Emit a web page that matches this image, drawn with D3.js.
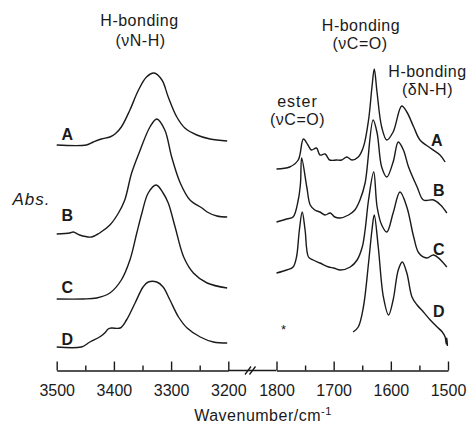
<!DOCTYPE html>
<html>
<head>
<meta charset="utf-8">
<script src="https://cdn.jsdelivr.net/npm/d3@7"></script>
<style>
  body { margin: 0; background: #fff; }
  svg text { font-family: 'Liberation Sans', Arial, sans-serif; fill: #1a1a1a; }
</style>
</head>
<body>
<svg id="chart" width="467" height="422"></svg>
<script>
'use strict';

// series names, top to bottom
const SERIES = ['A', 'B', 'C', 'D'];

// N-H stretch region, [wavenumber, absorbance (stacked, a.u.)]
const nhA = [[3500, 2.15], [3448, 2.15], [3436, 2.18], [3422, 2.21], [3407, 2.23], [3398, 2.26],
  [3387, 2.33], [3372, 2.5], [3357, 2.7], [3343, 2.83], [3330, 2.87], [3316, 2.8], [3305, 2.63],
  [3290, 2.43], [3276, 2.32], [3255, 2.25], [3232, 2.21], [3202, 2.19]];
const nhB = [[3500, 1.26], [3477, 1.27], [3471, 1.28], [3460, 1.25], [3439, 1.23], [3425, 1.27],
  [3407, 1.35], [3392, 1.47], [3381, 1.6], [3369, 1.87], [3354, 2.1], [3337, 2.33], [3325, 2.41],
  [3311, 2.3], [3299, 2.03], [3284, 1.77], [3267, 1.6], [3246, 1.52], [3237, 1.48], [3220, 1.44],
  [3202, 1.43]];
const nhC = [[3500, 0.61], [3454, 0.61], [3430, 0.62], [3407, 0.67], [3387, 0.8], [3372, 1.0],
  [3360, 1.27], [3351, 1.47], [3340, 1.67], [3326, 1.75], [3314, 1.67], [3305, 1.57], [3293, 1.33],
  [3278, 1.03], [3261, 0.87], [3237, 0.77], [3202, 0.72]];
const nhD = [[3500, 0.13], [3457, 0.13], [3442, 0.18], [3425, 0.23], [3416, 0.27], [3410, 0.31],
  [3404, 0.32], [3389, 0.32], [3378, 0.4], [3363, 0.57], [3349, 0.73], [3340, 0.78], [3325, 0.78],
  [3314, 0.73], [3302, 0.6], [3287, 0.43], [3272, 0.32], [3249, 0.23], [3226, 0.18], [3202, 0.17]];

// C=O / N-H bending region
const coA = [[1800, 1.91], [1777, 1.93], [1762, 2.0], [1753, 2.21], [1745, 2.15], [1739, 2.1],
  [1730, 2.12], [1724, 2.05], [1715, 2.06], [1707, 2.0], [1695, 2.0], [1686, 2.0], [1677, 2.03],
  [1668, 2.0], [1657, 2.03], [1648, 2.13], [1639, 2.4], [1633, 2.73], [1629, 2.91], [1624, 2.67],
  [1616, 2.33], [1607, 2.2], [1596, 2.28], [1581, 2.54], [1572, 2.48], [1560, 2.33], [1549, 2.2],
  [1531, 2.12], [1514, 2.05], [1505, 1.98]];
const coB = [[1800, 1.38], [1782, 1.41], [1771, 1.43], [1762, 1.6], [1758, 1.77], [1756, 2.02],
  [1747, 1.73], [1741, 1.55], [1733, 1.5], [1724, 1.48], [1715, 1.45], [1706, 1.47], [1698, 1.43],
  [1689, 1.42], [1674, 1.45], [1663, 1.5], [1654, 1.6], [1645, 1.77], [1631, 2.4], [1624, 2.27],
  [1616, 1.93], [1607, 1.83], [1596, 1.98], [1587, 2.18], [1578, 2.1], [1569, 1.93], [1554, 1.73],
  [1543, 1.6], [1525, 1.6], [1513, 1.55], [1502, 1.47]];
const coC = [[1800, 0.87], [1782, 0.9], [1771, 0.93], [1765, 1.03], [1760, 1.3], [1755, 1.48],
  [1750, 1.3], [1744, 1.03], [1736, 1.0], [1724, 0.97], [1709, 0.93], [1700, 0.92], [1688, 0.9],
  [1671, 0.93], [1659, 1.0], [1650, 1.13], [1645, 1.3], [1639, 1.6], [1630, 1.88], [1624, 1.53],
  [1616, 1.35], [1607, 1.28], [1596, 1.47], [1584, 1.68], [1572, 1.53], [1560, 1.23], [1551, 1.07],
  [1537, 1.02], [1525, 1.05], [1502, 0.93]];
const coD = [[1666, 0.28], [1657, 0.33], [1648, 0.53], [1639, 0.97], [1633, 1.3], [1629, 1.45],
  [1622, 1.13], [1613, 0.63], [1604, 0.45], [1596, 0.6], [1587, 0.9], [1580, 0.98], [1572, 0.87],
  [1563, 0.63], [1554, 0.55], [1543, 0.48], [1531, 0.4], [1519, 0.33], [1510, 0.28], [1505, 0.23],
  [1503, 0.16], [1502, 0.22], [1501, 0.14]];

const nhSpectra = [nhA, nhB, nhC, nhD];
const coSpectra = [coA, coB, coC, coD];

const leftTicks = [3500, 3400, 3300, 3200];
const leftMinor = [3450, 3350, 3250];
const rightTicks = [1800, 1700, 1600, 1500];
const rightMinor = [1750, 1650, 1550];

const svg = d3.select('#chart');
const ink = '#1a1a1a';

const xL = d3.scaleLinear().domain([3500, 3200]).range([56.7, 228.3]);
const xR = d3.scaleLinear().domain([1800, 1500]).range([276.5, 448]);
const y = d3.scaleLinear().domain([0, 3]).range([360, 60]);
const axisY = 370.5;

// spectra
const lineL = d3.line().x((d) => xL(d[0])).y((d) => y(d[1])).curve(d3.curveCatmullRom.alpha(0.5));
const lineR = d3.line().x((d) => xR(d[0])).y((d) => y(d[1])).curve(d3.curveCatmullRom.alpha(0.5));

const g = svg.append('g').attr('fill', 'none').attr('stroke', ink).attr('stroke-width', 1.4)
  .attr('stroke-linejoin', 'round');
g.selectAll('path.nh').data(nhSpectra).join('path').attr('class', 'nh').attr('d', lineL);
g.selectAll('path.co').data(coSpectra).join('path').attr('class', 'co').attr('d', lineR);

// axes (ticks point up)
function drawAxis(scale, ticks, minor) {
  svg.append('g')
    .attr('transform', `translate(0,${axisY})`)
    .call(d3.axisBottom(scale).tickValues(ticks).tickSizeInner(-9).tickSizeOuter(0).tickPadding(14)
      .tickFormat(d3.format('d')))
    .call((a) => a.select('.domain').attr('stroke', ink).attr('stroke-width', 1.4))
    .call((a) => a.selectAll('.tick line').attr('stroke', ink).attr('stroke-width', 1.4))
    .call((a) => a.selectAll('.tick text').attr('font-size', 16).attr('fill', ink)
      .attr('font-family', "'Liberation Sans', Arial, sans-serif").attr('dy', '0.72em'));
  svg.append('g')
    .attr('transform', `translate(0,${axisY})`)
    .call(d3.axisBottom(scale).tickValues(minor).tickSizeInner(-5).tickSizeOuter(0).tickFormat(''))
    .call((a) => a.select('.domain').remove())
    .call((a) => a.selectAll('.tick line').attr('stroke', ink).attr('stroke-width', 1.4));
}
drawAxis(xL, leftTicks, leftMinor);
drawAxis(xR, rightTicks, rightMinor);

// axis break
const brk = svg.append('g').attr('stroke', ink).attr('stroke-width', 1.3).attr('fill', 'none');
brk.append('path').attr('d', `M${xL(3200)},${axisY}H${xR(1800)}`);
brk.append('path').attr('d', `M245,${axisY + 4}L251,${axisY - 4}M249.5,${axisY + 4}L255.5,${axisY - 4}`);

// text
function label(x, yy, txt, opts = {}) {
  return svg.append('text')
    .attr('x', x).attr('y', yy)
    .attr('text-anchor', opts.anchor || 'middle')
    .attr('font-size', opts.size || 16)
    .attr('font-weight', opts.bold ? 'bold' : null)
    .attr('font-style', opts.italic ? 'italic' : null)
    .attr('letter-spacing', opts.ls != null ? opts.ls : 0.5)
    .text(txt);
}

label(139.5, 26, 'H-bonding');
label(140.5, 45.5, '(\u03BDN-H)');
label(361, 30.5, 'H-bonding');
label(360, 49, '(\u03BDC=O)');
label(427.5, 76.5, 'H-bonding');
label(427.5, 95, '(\u03B4N-H)');
label(297.5, 107, 'ester', { ls: 1 });
label(297.5, 124.5, '(\u03BDC=O)');

label(12.5, 205, 'Abs.', { anchor: 'start', italic: true, size: 17, ls: 1 });

const leftLabelY = [140, 220.5, 293, 345];
const rightLabelY = [146, 196, 255, 317];
SERIES.forEach((s, i) => {
  label(61.5, leftLabelY[i], s, { anchor: 'start', bold: true, ls: 0 });
  label(i === 0 ? 431 : 433, rightLabelY[i], s, { anchor: 'start', bold: true, ls: 0 });
});

label(283.5, 334, '*', { size: 13, ls: 0 });

const title = svg.append('text')
  .attr('x', 263).attr('y', 420.5)
  .attr('text-anchor', 'middle')
  .attr('font-size', 16)
  .attr('letter-spacing', 0.5);
title.append('tspan').text('Wavenumber/cm');
title.append('tspan').attr('font-size', 11).attr('dy', -6).text('-1');
</script>
</body>
</html>
